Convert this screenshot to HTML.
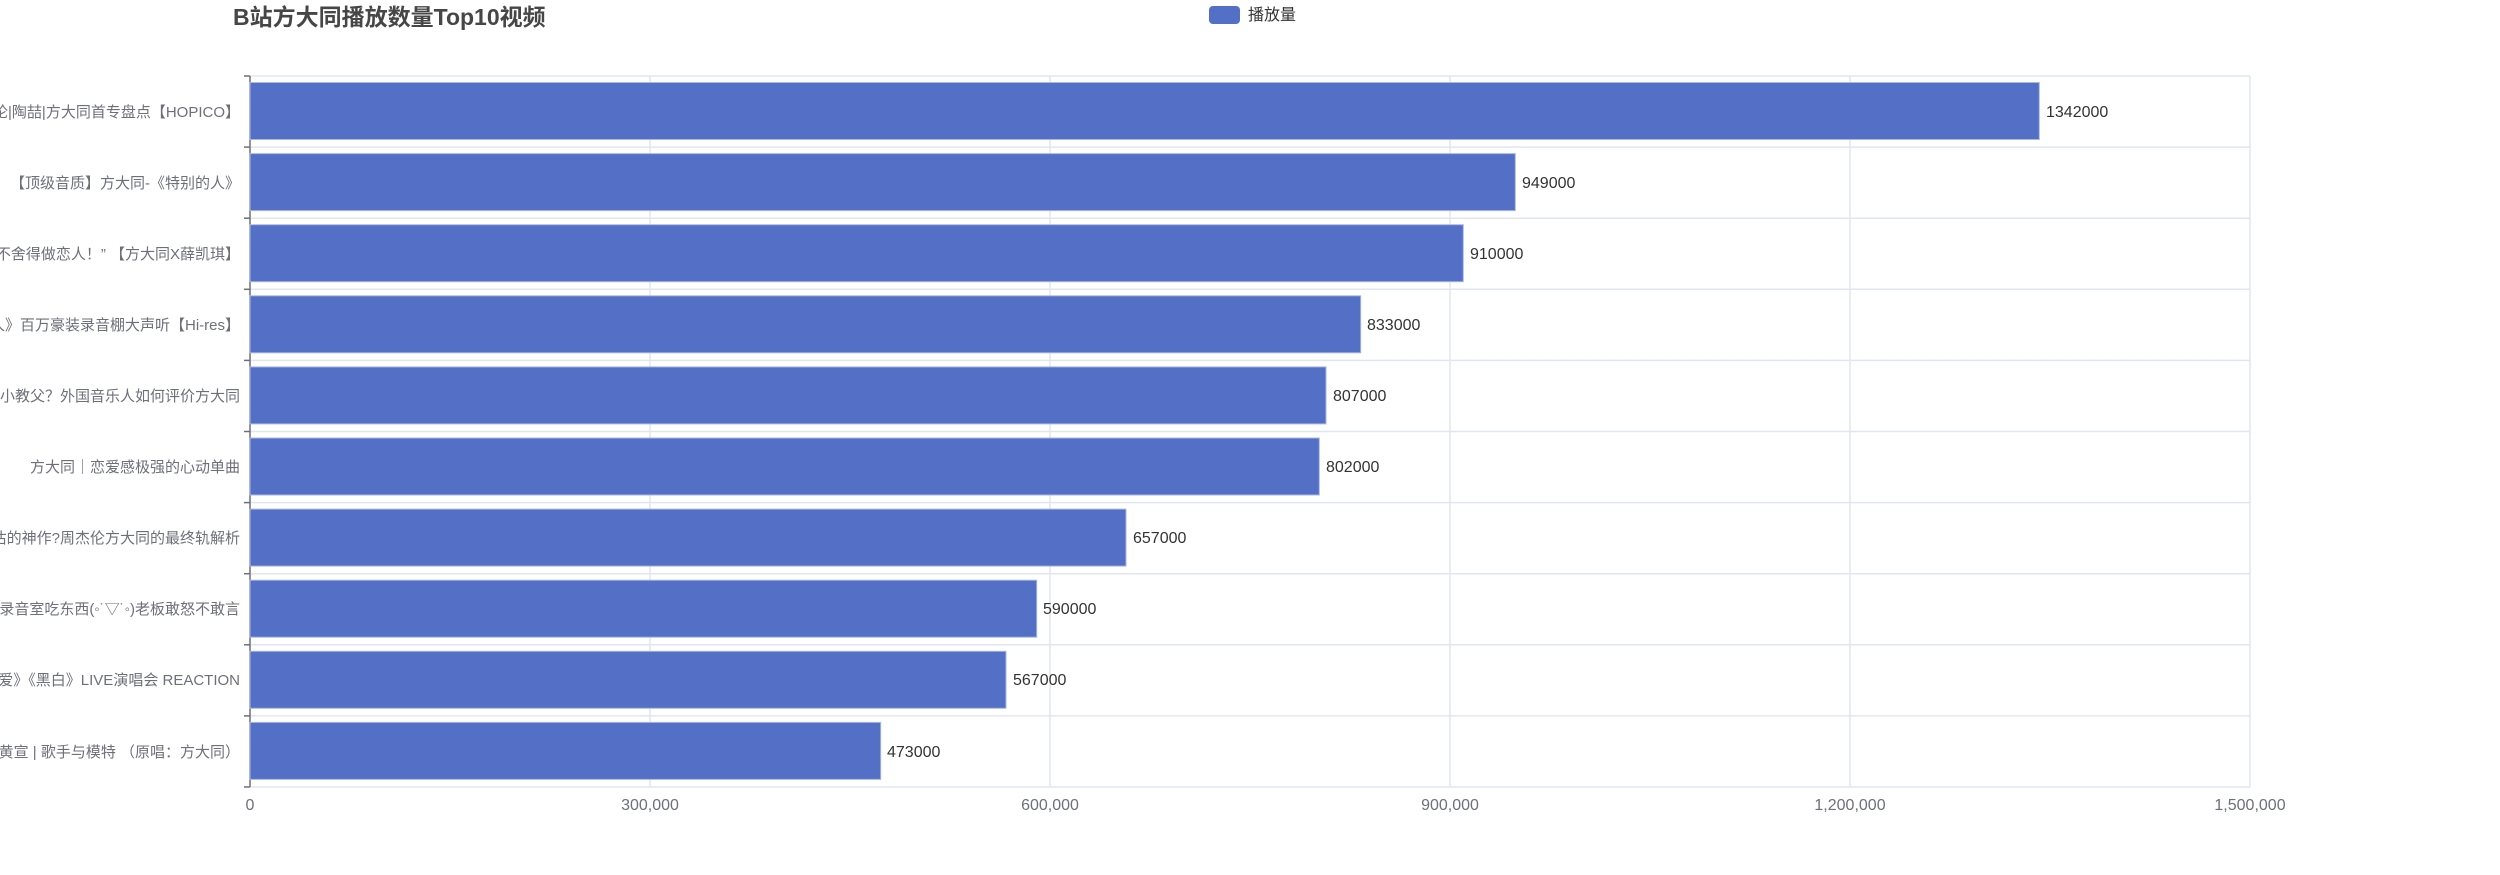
<!DOCTYPE html>
<html><head><meta charset="utf-8"><style>
html,body{margin:0;padding:0;background:#fff;width:2500px;height:875px;overflow:hidden}
svg{display:block}
text{font-family:"Liberation Sans","Noto Sans CJK SC",sans-serif}
</style></head><body>
<svg width="2500" height="875" xmlns="http://www.w3.org/2000/svg">
<text x="233" y="25" font-size="23" font-weight="bold" fill="#464646">B站方大同播放数量Top10视频</text>
<rect x="1209" y="6" width="31" height="18" rx="4" fill="#5470c6"/>
<text x="1248" y="20" font-size="16" fill="#333">播放量</text>
<g stroke="#e0e6f1" stroke-width="1.5" fill="none">
<line x1="650" y1="76" x2="650" y2="787"/><line x1="1050" y1="76" x2="1050" y2="787"/>
<line x1="1450" y1="76" x2="1450" y2="787"/><line x1="1850" y1="76" x2="1850" y2="787"/>
<line x1="2250" y1="76" x2="2250" y2="787"/>
<line x1="250" y1="76" x2="2250" y2="76"/><line x1="250" y1="147.1" x2="2250" y2="147.1"/>
<line x1="250" y1="218.2" x2="2250" y2="218.2"/><line x1="250" y1="289.3" x2="2250" y2="289.3"/>
<line x1="250" y1="360.4" x2="2250" y2="360.4"/><line x1="250" y1="431.5" x2="2250" y2="431.5"/>
<line x1="250" y1="502.6" x2="2250" y2="502.6"/><line x1="250" y1="573.7" x2="2250" y2="573.7"/>
<line x1="250" y1="644.8" x2="2250" y2="644.8"/><line x1="250" y1="715.9" x2="2250" y2="715.9"/>
<line x1="250" y1="787" x2="2250" y2="787"/>
</g>
<g stroke="#6e7079" stroke-width="1.5">
<line x1="250" y1="76" x2="250" y2="787"/>
<line x1="244" y1="76" x2="250" y2="76"/><line x1="244" y1="147.1" x2="250" y2="147.1"/>
<line x1="244" y1="218.2" x2="250" y2="218.2"/><line x1="244" y1="289.3" x2="250" y2="289.3"/>
<line x1="244" y1="360.4" x2="250" y2="360.4"/><line x1="244" y1="431.5" x2="250" y2="431.5"/>
<line x1="244" y1="502.6" x2="250" y2="502.6"/><line x1="244" y1="573.7" x2="250" y2="573.7"/>
<line x1="244" y1="644.8" x2="250" y2="644.8"/><line x1="244" y1="715.9" x2="250" y2="715.9"/>
<line x1="244" y1="787" x2="250" y2="787"/>
</g>
<g fill="#5470c6" stroke="#a9b7e3" stroke-width="1">
<rect x="250" y="82.5" width="1789.3" height="57"/>
<rect x="250" y="153.6" width="1265.3" height="57"/>
<rect x="250" y="224.7" width="1213.3" height="57"/>
<rect x="250" y="295.8" width="1110.7" height="57"/>
<rect x="250" y="366.9" width="1076" height="57"/>
<rect x="250" y="438" width="1069.3" height="57"/>
<rect x="250" y="509.1" width="876" height="57"/>
<rect x="250" y="580.2" width="786.7" height="57"/>
<rect x="250" y="651.3" width="756" height="57"/>
<rect x="250" y="722.4" width="630.7" height="57"/>
</g>
<g font-size="16" fill="#333">
<text x="2046" y="117">1342000</text>
<text x="1522" y="188">949000</text>
<text x="1470" y="259">910000</text>
<text x="1367" y="330">833000</text>
<text x="1333" y="401">807000</text>
<text x="1326" y="472">802000</text>
<text x="1133" y="543">657000</text>
<text x="1043" y="614">590000</text>
<text x="1013" y="685">567000</text>
<text x="887" y="757">473000</text>
</g>
<g font-size="15" fill="#6e7079" text-anchor="end">
<text x="240" y="117">……大同歌曲评论|陶喆|方大同首专盘点【HOPICO】</text>
<text x="240" y="188">【顶级音质】方大同-《特别的人》</text>
<text x="240" y="259">……“我们不舍得做恋人！” 【方大同X薛凯琪】</text>
<text x="240" y="330">……方大同《特别的人》百万豪装录音棚大声听【Hi-res】</text>
<text x="240" y="401">……R&amp;B小教父？外国音乐人如何评价方大同</text>
<text x="240" y="472">方大同｜恋爱感极强的心动单曲</text>
<text x="240" y="543">……被低估的神作?周杰伦方大同的最终轨解析</text>
<text x="240" y="614">……方大同在录音室吃东西(◦˙▽˙◦)老板敢怒不敢言</text>
<text x="240" y="685">……《爱爱爱》《黑白》LIVE演唱会 REACTION</text>
<text x="240" y="757">……黄宣 | 歌手与模特 （原唱：方大同）</text>
</g>
<g font-size="16" fill="#6e7079" text-anchor="middle">
<text x="250" y="810">0</text>
<text x="650" y="810">300,000</text>
<text x="1050" y="810">600,000</text>
<text x="1450" y="810">900,000</text>
<text x="1850" y="810">1,200,000</text>
<text x="2250" y="810">1,500,000</text>
</g>
</svg>
</body></html>
